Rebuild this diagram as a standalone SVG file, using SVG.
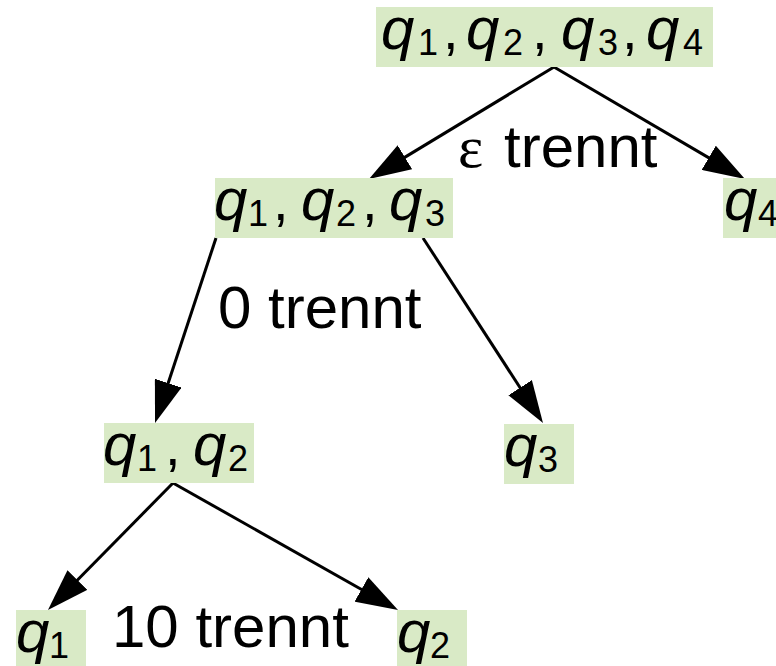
<svg xmlns="http://www.w3.org/2000/svg" width="776" height="666" viewBox="0 0 776 666">
<style>
.box{fill:#d9eac6}
.t{font-family:"Liberation Sans",Arial,sans-serif;fill:#000}
.q{font-style:italic;font-size:60px}
.s{font-style:normal;font-size:36px}
.c{font-style:normal;font-size:56px}
.lbl{font-family:"Liberation Sans",Arial,sans-serif;font-size:60px;fill:#000}
.eps{font-family:"Liberation Serif","Times New Roman",serif;font-size:60px;fill:#000}
.edge{stroke:#000;stroke-width:3;fill:none}
</style>
<defs>
<marker id="arr" viewBox="0 0 42 28" refX="22" refY="14" markerWidth="42" markerHeight="28" markerUnits="userSpaceOnUse" orient="auto">
<path d="M0,0 L42,14 L0,28 z" fill="#000"/>
</marker>
</defs>
<rect width="776" height="666" fill="#fff"/>
<g id="connectors">
<line class="edge" x1="554" y1="67" x2="386.1" y2="168.6" marker-end="url(#arr)"/>
<line class="edge" x1="554" y1="67" x2="727.7" y2="168.9" marker-end="url(#arr)"/>
<line class="edge" x1="216" y1="238" x2="161.3" y2="404" marker-end="url(#arr)"/>
<line class="edge" x1="423" y1="238" x2="532.1" y2="406.2" marker-end="url(#arr)"/>
<line class="edge" x1="173" y1="483" x2="62" y2="595.7" marker-end="url(#arr)"/>
<line class="edge" x1="173" y1="483" x2="380.6" y2="600.2" marker-end="url(#arr)"/>
</g>
<g id="n1234">
<rect class="box" x="376" y="7" width="337" height="60"/>
<text class="t"><tspan class="q" x="381" y="49">q</tspan><tspan class="s" x="418" y="55">1</tspan><tspan class="c" x="443" y="49">,</tspan><tspan class="q" x="466" y="49">q</tspan><tspan class="s" x="503" y="55">2</tspan><tspan class="c" x="532" y="49">,</tspan><tspan class="q" x="561" y="49">q</tspan><tspan class="s" x="598" y="55">3</tspan><tspan class="c" x="622" y="49">,</tspan><tspan class="q" x="646" y="49">q</tspan><tspan class="s" x="683" y="55">4</tspan></text>
</g>
<g id="n123">
<rect class="box" x="215" y="178" width="238" height="60"/>
<text class="t"><tspan class="q" x="214" y="220">q</tspan><tspan class="s" x="248" y="226">1</tspan><tspan class="c" x="273" y="220">,</tspan><tspan class="q" x="301" y="220">q</tspan><tspan class="s" x="336" y="226">2</tspan><tspan class="c" x="362" y="220">,</tspan><tspan class="q" x="389" y="220">q</tspan><tspan class="s" x="425" y="226">3</tspan></text>
</g>
<g id="n4">
<rect class="box" x="723" y="178" width="70" height="60"/>
<text class="t"><tspan class="q" x="724" y="220">q</tspan><tspan class="s" x="758" y="226">4</tspan></text>
</g>
<g id="n12">
<rect class="box" x="104" y="423" width="150" height="60"/>
<text class="t"><tspan class="q" x="103" y="465">q</tspan><tspan class="s" x="137" y="471">1</tspan><tspan class="c" x="165" y="465">,</tspan><tspan class="q" x="193" y="465">q</tspan><tspan class="s" x="228" y="471">2</tspan></text>
</g>
<g id="n3">
<rect class="box" x="504" y="424" width="70" height="60"/>
<text class="t"><tspan class="q" x="504" y="466">q</tspan><tspan class="s" x="538" y="472">3</tspan></text>
</g>
<g id="n1">
<rect class="box" x="16" y="610" width="70" height="60"/>
<text class="t"><tspan class="q" x="16" y="652">q</tspan><tspan class="s" x="49" y="658">1</tspan></text>
</g>
<g id="n2">
<rect class="box" x="397" y="610" width="70" height="60"/>
<text class="t"><tspan class="q" x="397" y="652">q</tspan><tspan class="s" x="430" y="658">2</tspan></text>
</g>
<g id="labels">
<text class="eps" x="458" y="167">ε</text><text class="lbl" x="504" y="167">trennt</text>
<text class="lbl" x="218" y="328">0 trennt</text>
<text class="lbl" x="112" y="647">10 trennt</text>
</g>
</svg>
